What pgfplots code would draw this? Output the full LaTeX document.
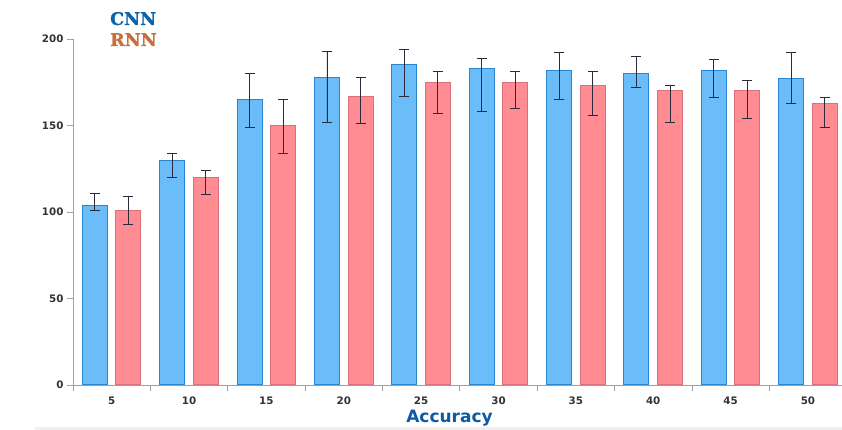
\documentclass[border=0pt]{standalone}
\usepackage{fontspec}
\setmainfont{DejaVu Sans}
\newfontfamily\slab{DejaVu Serif}[BoldFeatures={FakeBold=1.2}]
\usepackage{pgfplots}
\pgfplotsset{compat=1.18}
\usepackage{pgfplotstable}
\definecolor{cnnfill}{HTML}{6BBDF9}
\definecolor{cnnedge}{HTML}{2A86CF}
\definecolor{rnnfill}{HTML}{FF8C93}
\definecolor{rnnedge}{HTML}{D9707A}
\definecolor{axgray}{HTML}{A0A0A0}
\definecolor{ticktext}{HTML}{333333}
\definecolor{labblue}{HTML}{0B5AA2}
\definecolor{cnntext}{HTML}{0A64AC}
\definecolor{rnntext}{HTML}{C8703C}
\definecolor{errc}{HTML}{2B2B3B}
\pgfplotstableread{
x y ep em
1 104 7 3
2 130 4 10
3 165 15 16
4 178 15 26
5 185 9 18
6 183 6 25
7 182 10 17
8 180 10 8
9 182 6 16
10 177 15 14
}\cnn
\pgfplotstableread{
x y ep em
1 101 8 8
2 120 4 10
3 150 15 16
4 167 11 16
5 175 6 18
6 175 6 15
7 173 8 17
8 170 3 18
9 170 6 16
10 163 3 14
}\rnn
\begin{document}
\begin{tikzpicture}[x=1pt,y=1pt]
\useasboundingbox (0,0) rectangle (842,430);
\fill[gray!12] (35,0) rectangle (842,3);
\begin{axis}[
  at={(73pt,45pt)}, anchor=south west,
  scale only axis, width=769pt, height=346pt,
  xmin=0.5, xmax=10.44, ymin=0, ymax=200,
  axis x line*=bottom, axis y line*=left,
  axis line style={axgray, line width=0.8pt},
  tick align=outside,
  major tick length=6pt, minor tick length=6pt,
  tick style={axgray, line width=0.8pt},
  xtick={1,...,10}, xticklabels={5,10,15,20,25,30,35,40,45,50},
  major x tick style={draw=none},
  minor xtick={0.5,1.5,...,9.5},
  ytick={0,50,100,150,200},
  ticklabel style={font=\fontsize{10.3}{12}\selectfont\bfseries, text=ticktext},
  xticklabel style={yshift=-2pt},
  /pgf/number format/assume math mode=true,
  ybar=8.6pt, bar width=25pt,
  error bars/y dir=both, error bars/y explicit,
  error bars/error bar style={errc, line width=0.9pt},
  error bars/error mark options={rotate=90, mark size=5pt, line width=0.9pt, errc},
  clip=false,
]
\addplot[fill=cnnfill, draw=cnnedge, line width=1pt]
  table[x=x, y=y, y error plus=ep, y error minus=em]{\cnn};
\addplot[fill=rnnfill, draw=rnnedge, line width=1pt]
  table[x=x, y=y, y error plus=ep, y error minus=em]{\rnn};
\end{axis}
\node[anchor=base, text=labblue, font=\fontsize{17}{20}\selectfont\bfseries] at (449.5,7) {Accuracy};
\node[anchor=base west, text=cnntext, font=\slab\fontsize{17.5}{20}\selectfont\bfseries, inner sep=0pt] at (110,405) {CNN};
\node[anchor=base west, text=rnntext, font=\slab\fontsize{17.5}{20}\selectfont\bfseries, inner sep=0pt] at (110,384) {RNN};
\end{tikzpicture}
\end{document}
